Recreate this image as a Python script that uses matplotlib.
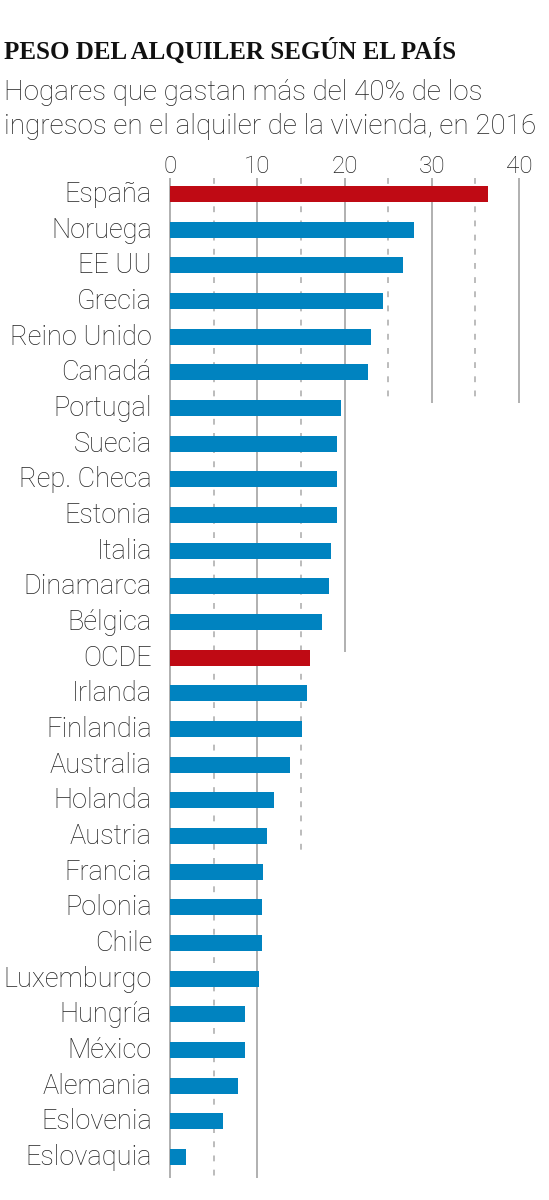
import matplotlib
matplotlib.use("Agg")
import matplotlib.pyplot as plt
import matplotlib.transforms as mtransforms

countries = ["España", "Noruega", "EE UU", "Grecia", "Reino Unido", "Canadá", "Portugal",
             "Suecia", "Rep. Checa", "Estonia", "Italia", "Dinamarca", "Bélgica", "OCDE",
             "Irlanda", "Finlandia", "Australia", "Holanda", "Austria", "Francia", "Polonia",
             "Chile", "Luxemburgo", "Hungría", "México", "Alemania", "Eslovenia", "Eslovaquia"]
values = [36.4, 28.0, 26.7, 24.4, 23.0, 22.7, 19.6,
          19.1, 19.1, 19.1, 18.5, 18.2, 17.4, 16.1,
          15.7, 15.1, 13.7, 11.95, 11.1, 10.7, 10.5,
          10.5, 10.2, 8.55, 8.55, 7.8, 6.1, 1.8]
highlight = ["España", "OCDE"]
xticks = [0, 10, 20, 30, 40]
solid_grid = [0, 10, 20, 30, 40]
dashed_grid = [5, 15, 25, 35]

BLUE = "#0083c0"
RED = "#bf0a14"
GRID = "#b0b0b0"
TEXT = "#222222"
SANS = ["Roboto", "DejaVu Sans"]

W, H = 549, 1200
fig = plt.figure(figsize=(W / 100, H / 100), dpi=100)

row0_px, step_px = 194.0, 35.67
ytop, ybot = -0.5, 27.7
top_px = row0_px + ytop * step_px
bot_px = row0_px + ybot * step_px
left_px, right_px = 170.0, 519.0
ax = fig.add_axes([left_px / W, 1 - bot_px / H, (right_px - left_px) / W, (bot_px - top_px) / H])

n = len(countries)
ypos = list(range(n))
colors = [RED if c in highlight else BLUE for c in countries]

# grid lines (extent depends on row)
grid_end = {0: 27.6, 5: 27.6, 10: 27.6, 15: 18.5, 20: 12.85, 25: 5.85, 30: 5.85, 35: 5.85, 40: 5.85}
for g in solid_grid:
    ax.plot([g, g], [-0.45, grid_end[g]], color=GRID, lw=1.4, zorder=1, clip_on=False,
            solid_capstyle="butt")
for g in dashed_grid:
    ax.plot([g, g], [-0.45, grid_end[g]], color=GRID, lw=1.2, zorder=1, clip_on=False,
            linestyle=(0, (3.5, 5)))

ax.barh(ypos, values, height=0.45, color=colors, zorder=2)

ax.set_xlim(0, 40)
ax.set_ylim(ybot, ytop)
for s in ax.spines.values():
    s.set_visible(False)
ax.xaxis.tick_top()
ax.set_xticks(xticks)
ax.set_xticklabels([str(t) for t in xticks])
ax.tick_params(axis="x", length=0, pad=-1.5, labelsize=17.5, colors=TEXT)
ax.set_yticks(ypos)
ax.set_yticklabels(countries)
ax.tick_params(axis="y", length=0, pad=13, labelsize=19.5, colors=TEXT)
shift = mtransforms.ScaledTranslation(0, 2.5 / 100, fig.dpi_scale_trans)
for lab in ax.get_yticklabels():
    lab.set_transform(lab.get_transform() + shift)
for lab in ax.get_xticklabels() + ax.get_yticklabels():
    lab.set_family(SANS)
    lab.set_fontweight("light")

fig.text(4 / W, 1 - 59 / H, "PESO DEL ALQUILER SEGÚN EL PAÍS", family=["Liberation Serif", "DejaVu Serif"],
         fontweight="bold", fontsize=18, color="#111111", va="baseline", ha="left")
fig.text(4 / W, 1 - 100 / H, "Hogares que gastan más del 40% de los", family=SANS, fontweight="light",
         fontsize=20, color=TEXT, va="baseline", ha="left")
fig.text(4 / W, 1 - 134 / H, "ingresos en el alquiler de la vivienda, en 2016", family=SANS, fontweight="light",
         fontsize=20, color=TEXT, va="baseline", ha="left")

fig.savefig("out.png", dpi=100, facecolor="white")
